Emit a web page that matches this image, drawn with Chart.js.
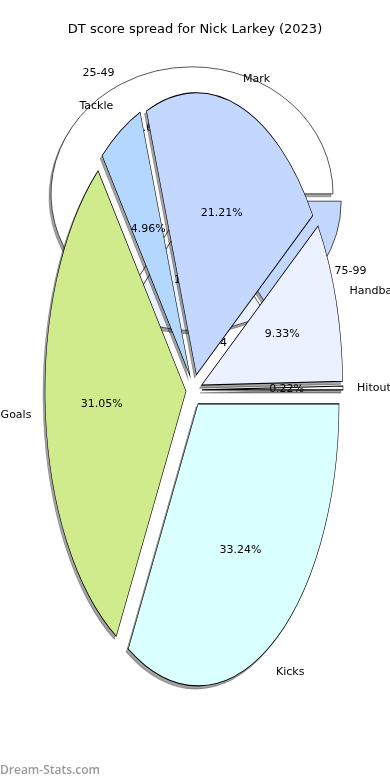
<!DOCTYPE html>
<html><head><meta charset="utf-8">
<script src="https://cdn.jsdelivr.net/npm/chart.js@4.4.0/dist/chart.umd.min.js"></script>
<style>
html,body{margin:0;padding:0;background:#fff;}
#wrap{position:relative;width:390px;height:780px;overflow:hidden;background:#fff;}
canvas{position:absolute;left:0;top:0;}
#wm{position:absolute;left:0;top:761px;font:600 12px 'Open Sans',sans-serif;color:#9a9a9a;white-space:nowrap;}
</style></head><body>
<div id="wrap">
<canvas id="back" width="390" height="780"></canvas>
<canvas id="front" width="390" height="780"></canvas>
<div id="wm">Dream-Stats.com</div>
</div>
<script>
// ---- data ----
const chartTitle = 'DT score spread for Nick Larkey (2023)';
const statLabels = ['Hitout', 'Handball', 'Mark', 'Tackle', 'Goals', 'Kicks'];
const statShares = [0.22, 9.33, 21.21, 4.96, 31.05, 33.24];
const rangeLabels = ['25-49', '50-74', '75-99'];
const rangeGames = [8, 2, 2];

// ---- styles ----
const statColors = ['#FAFCFF', '#EBF1FF', '#C4D8FF', '#B4D7FF', '#D0EB8B', '#DAFFFF'];
const rangeColors = ['#FFFFFF', '#EAF1FF', '#C4D8FF'];
const FONT = '"DejaVu Sans", sans-serif';

// geometry of each pie on the page (ellipse stretch, explode distance)
const frontGeom = {tx: 194, ty: 390, sx: 1, sy: -2, d: 8};
const backGeom = {tx: 195, ty: 198.5, sx: 1, sy: -127 / 141, d: 6};
const SHADOW = {dx: -2, dy: 3, color: 'rgba(0,0,0,0.36)'};
const FAR = 3000;

function applyEllipse(ctx, chart, g) {
  const a = chart.chartArea;
  const cx = (a.left + a.right) / 2, cy = (a.top + a.bottom) / 2;
  ctx.translate(g.tx, g.ty);
  ctx.scale(g.sx, g.sy);
  ctx.translate(-cx, -cy);
}
function explode(ctx, el, g) {
  const h = (el.startAngle + el.endAngle) / 2;
  ctx.translate(Math.cos(h) * g.d, Math.sin(h) * g.d);
}

function piePlugin(g, labels) {
  return {
    id: 'mplpie',
    beforeDatasetsDraw(chart) {
      const ctx = chart.ctx;
      const meta = chart.getDatasetMeta(0);
      // shadows (shape drawn far away, only its shadow lands on the page)
      ctx.save();
      ctx.translate(FAR, 0);
      applyEllipse(ctx, chart, g);
      ctx.shadowColor = SHADOW.color;
      ctx.shadowOffsetX = -FAR + SHADOW.dx;
      ctx.shadowOffsetY = SHADOW.dy;
      ctx.shadowBlur = 0;
      meta.data.forEach(el => { ctx.save(); explode(ctx, el, g); el.draw(ctx); ctx.restore(); });
      ctx.restore();
      // wedges
      ctx.save();
      applyEllipse(ctx, chart, g);
      meta.data.forEach(el => { ctx.save(); explode(ctx, el, g); el.draw(ctx); ctx.restore(); });
      ctx.restore();
      return false;
    },
    afterDraw(chart) {
      const ctx = chart.ctx;
      const meta = chart.getDatasetMeta(0);
      const data = chart.data.datasets[0].data;
      const tot = data.reduce((s, v) => s + v, 0);
      ctx.save();
      ctx.font = '11px ' + FONT;
      ctx.fillStyle = '#000';
      ctx.textBaseline = 'middle';
      meta.data.forEach((el, i) => {
        const h = (el.startAngle + el.endAngle) / 2;
        const c = Math.cos(h), s = Math.sin(h);
        const pt = k => {
          const rho = g.d + k * el.outerRadius;
          return [g.tx + g.sx * rho * c, g.ty + g.sy * rho * s];
        };
        const [lx, ly] = pt(1.1);
        ctx.textAlign = c > -1e-6 ? 'left' : 'right';
        ctx.fillText(labels[i], lx, ly);
        const [px, py] = pt(0.6);
        ctx.textAlign = 'center';
        ctx.fillText((data[i] / tot * 100).toFixed(2) + '%', px, py);
      });
      ctx.restore();
    }
  };
}

function makePie(id, labels, values, colors, g, bw, withTitle) {
  return new Chart(document.getElementById(id), {
    type: 'pie',
    data: {
      labels: labels,
      datasets: [{
        data: values,
        backgroundColor: colors,
        borderColor: '#000',
        borderWidth: bw,
        borderJoinStyle: 'miter',
        radius: 141,
        rotation: 90,
        offset: 0,
        hoverOffset: 0,
        clip: false
      }]
    },
    options: {
      responsive: false,
      animation: false,
      events: [],
      layout: {padding: 0},
      plugins: {
        legend: {display: false},
        tooltip: {enabled: false},
        title: {
          display: withTitle,
          text: chartTitle,
          color: '#000',
          font: {family: FONT, size: 13, weight: 'normal'},
          padding: {top: 22, bottom: 0}
        }
      }
    },
    plugins: [piePlugin(g, labels)]
  });
}

makePie('back', rangeLabels, rangeGames, rangeColors, backGeom, 0.7, false);
makePie('front', statLabels, statShares, statColors, frontGeom, 0.55, true);
</script>
</body></html>
